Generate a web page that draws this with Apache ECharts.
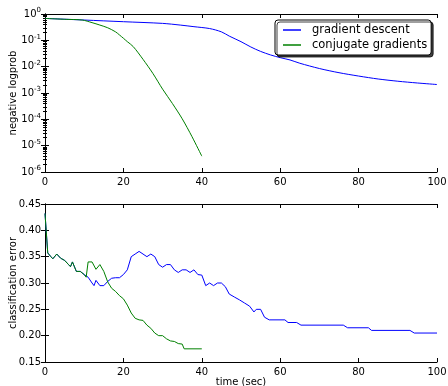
<!DOCTYPE html>
<html><head><meta charset="utf-8">
<script src="https://cdn.jsdelivr.net/npm/echarts@6/dist/echarts.min.js"></script>
<style>html,body{margin:0;padding:0;background:#fff}#c{width:448px;height:386px}</style>
</head><body><div id="c"></div>
<script>
// Top panel: negative logprob vs time
var gdTimeTop = [0,10,20,30,34.5,38,42,45,47,50,52.5,55,57.5,60,62.5,65,70,75,80,85,90,95,100];
var gdLogprob = [0.68,0.59,0.51,0.44,0.38,0.33,0.28,0.21,0.145,0.089,0.056,0.038,0.028,0.022,0.018,0.0135,0.0085,0.0059,0.0044,0.0034,0.0028,0.0024,0.0021];
var cgTimeTop = [0,5,9.5,12,14,16,18,19,20,21,22.5,25,27.5,30,32.5,35,37.5,40];
var cgLogprob = [0.68,0.63,0.59,0.47,0.38,0.30,0.21,0.16,0.12,0.089,0.058,0.019,0.0056,0.0014,0.0004,0.000105,0.000022,0.000004];
// Bottom panel: classification error vs time
var gdTimeBot = [0,0.7,1.5,2,3,4,5,6,6.5,7,8,9,10,11,12,12.5,13,14,15,16,17,18,19,20,21,22,23,24,25,26,27,28,29,30,31,32,33,34,35,36,37,38,39,40,41,42,43,44,45,46,47,48.4,49.6,50.9,52.2,53.3,53.9,55,56,57.2,61.2,62,64.2,65.3,76.1,77.2,82.5,83.3,93.1,94.2,100];
var gdError = [0.432,0.357,0.35,0.346,0.355,0.347,0.343,0.335,0.331,0.34,0.322,0.322,0.316,0.311,0.300,0.295,0.305,0.295,0.295,0.303,0.309,0.310,0.310,0.316,0.325,0.350,0.355,0.360,0.355,0.350,0.355,0.350,0.335,0.330,0.335,0.335,0.325,0.320,0.325,0.325,0.320,0.325,0.316,0.315,0.295,0.300,0.295,0.300,0.300,0.293,0.279,0.273,0.268,0.262,0.256,0.245,0.250,0.250,0.235,0.230,0.230,0.225,0.225,0.220,0.220,0.215,0.215,0.210,0.210,0.205,0.205];
var cgTimeBot = [0,0.7,1.5,2,3,4,5,6,6.5,7,8,9,10,10.5,11,12,13,14,15,16,17,18,19,20,21,22,23,24,25,26,27,28,29,30,31,32,33,34,35,35.5,40];
var cgError = [0.432,0.357,0.35,0.346,0.355,0.347,0.343,0.335,0.331,0.34,0.322,0.322,0.316,0.311,0.340,0.340,0.326,0.335,0.322,0.302,0.290,0.284,0.276,0.270,0.258,0.243,0.233,0.230,0.229,0.220,0.214,0.205,0.200,0.200,0.194,0.190,0.189,0.185,0.184,0.175,0.175];
var xTicks = [0,20,40,60,80,100];
var errTicks = [0.15,0.20,0.25,0.30,0.35,0.40,0.45];
var seriesNames = ['gradient descent','conjugate gradients'];
var seriesColors = ['#0000ff','#008000'];

function pairs(xs, ys){ return xs.map(function(x,i){ return [x, ys[i]]; }); }
var FONT = 'DejaVu Sans';
var tick = {show:true, inside:true, length:4, lineStyle:{color:'#000'}};
var line = {show:true, lineStyle:{color:'#000', width:1}};
function xAx(grid, pos, labels, extra){
  var a = {type:'value', gridIndex:grid, position:pos, min:xTicks[0], max:xTicks[xTicks.length-1], interval:xTicks[1]-xTicks[0],
    axisLine:line, axisTick:tick, splitLine:{show:false},
    axisLabel:{show:labels, color:'#000', fontFamily:FONT, fontSize:10, margin:5}};
  return Object.assign(a, extra||{});
}
var logLabel = {color:'#000', fontFamily:FONT, margin:4,
  formatter:function(v){ var e=Math.round(Math.log10(v)); return '{b|10}{s|'+e+'}'; },
  rich:{b:{fontSize:10, fontFamily:FONT, color:'#000'}, s:{fontSize:7, fontFamily:FONT, color:'#000', padding:[0,0,7,0]}}};
function logAx(pos, labels, extra){
  var a = {type:'log', gridIndex:0, position:pos, logBase:10, min:1e-6, max:1,
    axisLine:line, axisTick:tick, minorTick:{show:true, splitNumber:9, length:2, lineStyle:{color:'#000'}},
    splitLine:{show:false}, minorSplitLine:{show:false},
    axisLabel:Object.assign({show:labels}, logLabel)};
  return Object.assign(a, extra||{});
}
function errAx(pos, labels, extra){
  var a = {type:'value', gridIndex:1, position:pos, min:errTicks[0], max:errTicks[errTicks.length-1], interval:0.05,
    axisLine:line, axisTick:tick, splitLine:{show:false},
    axisLabel:{show:labels, color:'#000', fontFamily:FONT, fontSize:10, margin:4,
      formatter:function(v){ return v.toFixed(2); }}};
  return Object.assign(a, extra||{});
}
var nameStyle = {color:'#000', fontFamily:FONT, fontSize:10};
var option = {
  animation:false,
  backgroundColor:'#fff',
  textStyle:{fontFamily:FONT},
  grid:[{left:45, top:14, width:392, height:158, containLabel:false, outerBoundsMode:'none'},
        {left:45, top:204, width:392, height:158, containLabel:false, outerBoundsMode:'none'}],
  xAxis:[
    xAx(0,'bottom',true),
    xAx(0,'top',false),
    xAx(1,'bottom',true,{name:'time (sec)', nameLocation:'middle', nameGap:15, nameMoveOverlap:false, nameTextStyle:nameStyle}),
    xAx(1,'top',false)
  ],
  yAxis:[
    logAx('left',true,{name:'negative logprob', nameLocation:'middle', nameGap:27, nameMoveOverlap:false, nameTextStyle:nameStyle}),
    logAx('right',false),
    errAx('left',true,{name:'classification error', nameLocation:'middle', nameGap:27, nameMoveOverlap:false, nameTextStyle:nameStyle}),
    errAx('right',false)
  ],
  legend:{left:275, top:20, orient:'vertical',
    data:seriesNames.map(function(n){ return {name:n, icon:'rect'}; }),
    backgroundColor:'#fff', borderColor:'#000', borderWidth:1, borderRadius:3,
    padding:[4,4,4,8], itemGap:3, itemWidth:18, itemHeight:1.5,
    shadowColor:'rgba(0,0,0,0.75)', shadowOffsetX:2, shadowOffsetY:2, shadowBlur:0,
    textStyle:{fontFamily:FONT, fontSize:11.5, color:'#000', padding:[0,0,0,6]}},
  series:[
    {name:seriesNames[0], type:'line', xAxisIndex:0, yAxisIndex:0, data:pairs(gdTimeTop,gdLogprob),
      symbol:'none', smooth:0.3, color:seriesColors[0], lineStyle:{width:1, color:seriesColors[0]}},
    {name:seriesNames[1], type:'line', xAxisIndex:0, yAxisIndex:0, data:pairs(cgTimeTop,cgLogprob),
      symbol:'none', smooth:0.3, color:seriesColors[1], lineStyle:{width:1, color:seriesColors[1]}},
    {name:seriesNames[0], type:'line', xAxisIndex:2, yAxisIndex:2, data:pairs(gdTimeBot,gdError),
      symbol:'none', color:seriesColors[0], lineStyle:{width:1, color:seriesColors[0]}},
    {name:seriesNames[1], type:'line', xAxisIndex:2, yAxisIndex:2, data:pairs(cgTimeBot,cgError),
      symbol:'none', color:seriesColors[1], lineStyle:{width:1, color:seriesColors[1]}}
  ]
};
var chart = echarts.init(document.getElementById('c'), null, {renderer:'canvas'});
chart.setOption(option);
</script></body></html>
